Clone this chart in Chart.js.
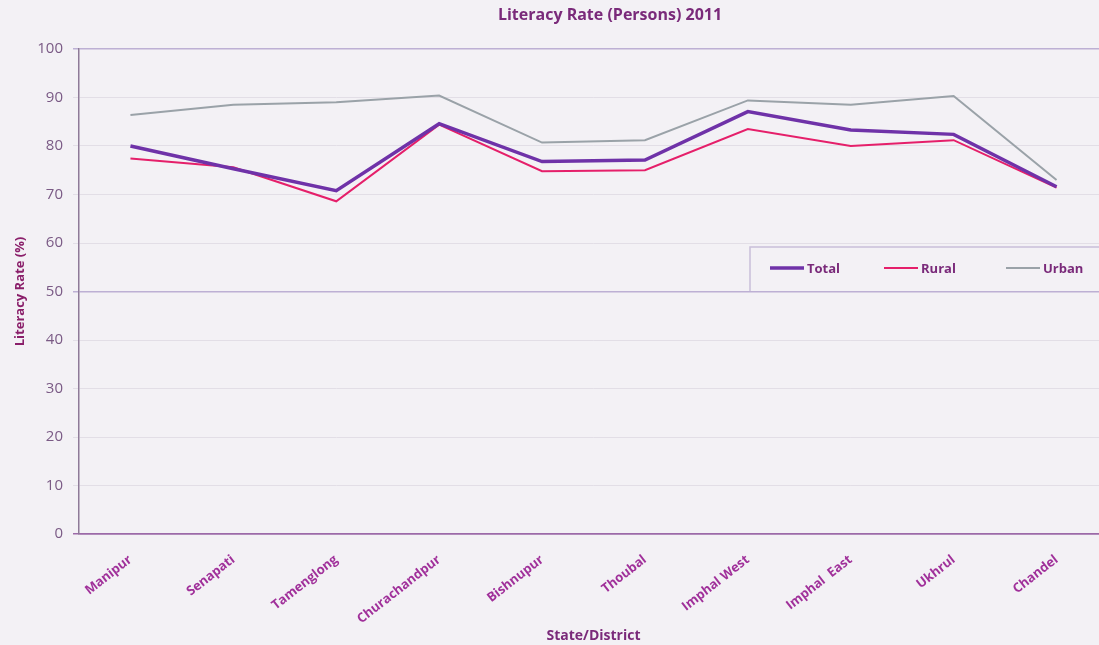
<!DOCTYPE html>
<html>
<head>
<meta charset="utf-8">
<script src="https://cdn.jsdelivr.net/npm/chart.js@4.4.1/dist/chart.umd.min.js"></script>
<style>
    body { margin: 0; background: #f3f1f5; overflow: hidden; }
    #wrap { width: 1110px; height: 645px; position: relative; }
</style>
</head>
<body>
<div id="wrap"><canvas id="myChart"></canvas></div>
<script>
// categories and values
var distritos = ['Manipur', 'Senapati', 'Tamenglong', 'Churachandpur', 'Bishnupur',
    'Thoubal', 'Imphal West', 'Imphal  East', 'Ukhrul', 'Chandel']
var total = [80.0, 75.3, 70.8, 84.6, 76.8, 77.1, 87.1, 83.3, 82.4, 71.6]
var rural = [77.4, 75.6, 68.6, 84.4, 74.8, 75.0, 83.5, 80.0, 81.2, 71.4]
var urbano = [86.4, 88.5, 89.0, 90.4, 80.7, 81.2, 89.4, 88.5, 90.3, 73.0]
var yTicks = [0, 10, 20, 30, 40, 50, 60, 70, 80, 90, 100]

const purple = '#7a2a7a'

// title and legend box drawn by hand, placed like the original
const extras = {
    id: 'extras',
    beforeDraw(chart) {
        const c = chart.ctx
        c.save()
        c.fillStyle = '#f3f1f5'
        c.fillRect(0, 0, chart.width, chart.height)
        c.restore()
    },
    afterDraw(chart) {
        const c = chart.ctx
        c.save()
        c.fillStyle = purple
        c.font = 'bold 16px "Open Sans"'
        c.textAlign = 'center'
        c.textBaseline = 'middle'
        c.fillText('Literacy Rate (Persons) 2011', 610, 15)

        // legend frame
        c.strokeStyle = '#c9bfd9'
        c.lineWidth = 1.5
        c.beginPath()
        c.moveTo(1110, 247)
        c.lineTo(750, 247)
        c.lineTo(750, 291)
        c.stroke()

        const items = [[770, 'Total'], [884, 'Rural'], [1006, 'Urban']]
        c.font = 'bold 13px "Open Sans"'
        c.textAlign = 'left'
        items.forEach(function (it, i) {
            const ds = chart.data.datasets[i]
            c.strokeStyle = ds.borderColor
            c.lineWidth = ds.borderWidth
            c.beginPath()
            c.moveTo(it[0], 268)
            c.lineTo(it[0] + 34, 268)
            c.stroke()
            c.fillStyle = purple
            c.fillText(it[1], it[0] + 37, 269)
        })
        c.restore()
    }
}

criarGrafico()
function criarGrafico() {
    const ctx = document.getElementById('myChart')

    new Chart(ctx, {
        type: 'line',
        data: {
            labels: distritos,
            datasets: [
                { label: 'Total', data: total, borderColor: '#6f32a8', borderWidth: 3.5 },
                { label: 'Rural', data: rural, borderColor: '#e51f6a', borderWidth: 2 },
                { label: 'Urban', data: urbano, borderColor: '#9aa2a8', borderWidth: 2 },
            ],
        },
        options: {
            responsive: true,
            maintainAspectRatio: false,
            animation: false,
            elements: { point: { radius: 0 }, line: { tension: 0 } },
            layout: { padding: { top: 49, right: 2, left: 0, bottom: 0 } },
            scales: {
                x: {
                    offset: true,
                    grid: { display: false },
                    border: { color: '#9c6aa8', width: 1.5 },
                    ticks: {
                        color: '#a0309a',
                        font: { family: 'Open Sans', size: 13, weight: 'bold' },
                        minRotation: 38,
                        maxRotation: 38,
                        padding: 10,
                    },
                    title: {
                        display: true,
                        text: 'State/District',
                        color: purple,
                        font: { family: 'Open Sans', size: 14, weight: 'bold' },
                        padding: { top: 0, bottom: 1 },
                    },
                    afterFit: function (scale) { scale.height = 111 },
                },
                y: {
                    min: 0,
                    max: 100,
                    afterBuildTicks: function (scale) {
                        scale.ticks = yTicks.map(function (v) { return { value: v } })
                    },
                    border: { color: '#8e7a98', width: 1.5 },
                    grid: {
                        tickLength: 6,
                        color: function (c) {
                            const v = c.tick.value
                            if (v === 0) return '#9c6aa8'
                            if (v === 50 || v === 100) return '#bdb0d4'
                            return '#e2dee6'
                        },
                        lineWidth: function (c) {
                            const v = c.tick.value
                            return (v === 0 || v === 50 || v === 100) ? 1.5 : 1
                        },
                    },
                    ticks: {
                        color: '#7a5a85',
                        font: { family: 'Open Sans', size: 15 },
                        padding: 10,
                    },
                    title: {
                        display: true,
                        text: 'Literacy Rate (%)',
                        color: '#8a1f6a',
                        font: { family: 'Open Sans', size: 13, weight: 'bold' },
                        padding: { top: 12, bottom: 0 },
                    },
                    afterFit: function (scale) { scale.width = 79 },
                },
            },
            plugins: {
                legend: { display: false },
                title: { display: false },
                tooltip: { enabled: false },
            },
        },
        plugins: [extras],
    })
}
</script>
</body>
</html>
